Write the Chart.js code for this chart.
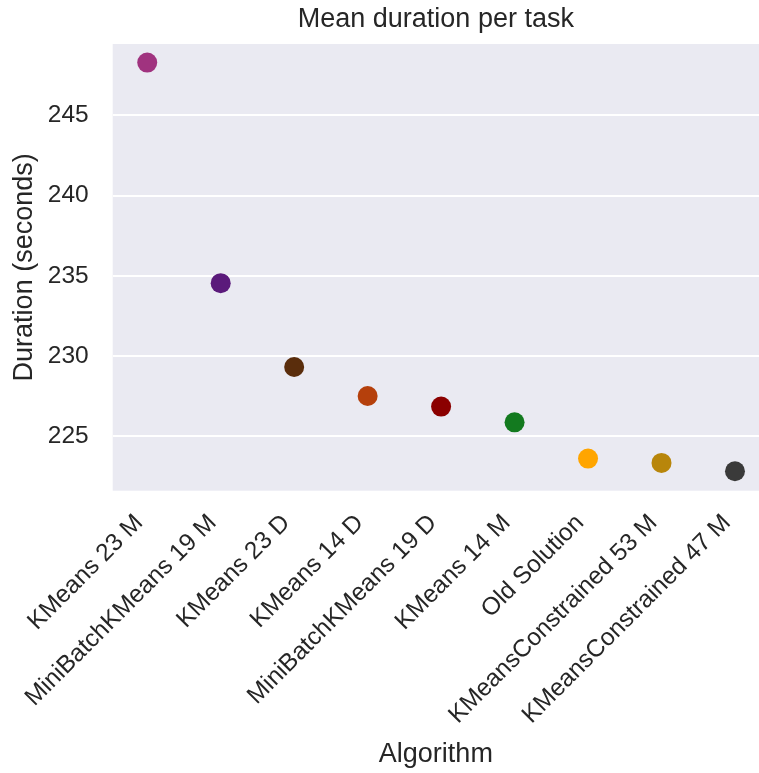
<!DOCTYPE html>
<html lang="en">
<head>
  <meta charset="UTF-8" />
  <title>Mean duration per task</title>
  <script src="https://cdn.jsdelivr.net/npm/chart.js"></script>
  <style>
    html, body {
      margin: 0;
      padding: 0;
      background: white;
    }
    #wrap {
      width: 759px;
      height: 773px;
    }
  </style>
</head>
<body>
  <div id="wrap">
    <canvas id="durationChart" width="759" height="773"></canvas>
  </div>

  <script>
    const algorithms = [
      'KMeans 23 M',
      'MiniBatchKMeans 19 M',
      'KMeans 23 D',
      'KMeans 14 D',
      'MiniBatchKMeans 19 D',
      'KMeans 14 M',
      'Old Solution',
      'KMeansConstrained 53 M',
      'KMeansConstrained 47 M'
    ];
    const meanDurations = [248.29, 234.55, 229.33, 227.52, 226.86, 225.88, 223.62, 223.35, 222.83];
    const pointColors = ['#a0337f', '#5b1a7b', '#5a2d0c', '#b5400c', '#8b0000', '#137a1f', '#ffa500', '#b8860b', '#3a3a3a'];
    const yTicks = [225, 230, 235, 240, 245];

    const FONT = "'Liberation Sans', Arial, sans-serif";
    const TEXT = '#262626';

    // grey panel behind the plot, seaborn darkgrid look
    const panelBg = {
      id: 'panelBg',
      beforeDraw(chart) {
        const { ctx, chartArea: a } = chart;
        ctx.save();
        ctx.fillStyle = '#eaeaf2';
        ctx.fillRect(a.left, a.top, a.right - a.left, a.bottom - a.top);
        ctx.restore();
      }
    };

    new Chart(document.getElementById('durationChart').getContext('2d'), {
      type: 'scatter',
      data: {
        datasets: [{
          label: 'Mean duration',
          data: meanDurations.map((v, i) => ({ x: i, y: v })),
          backgroundColor: pointColors,
          borderColor: pointColors,
          borderWidth: 0,
          pointRadius: 10,
          pointHoverRadius: 10
        }]
      },
      options: {
        responsive: false,
        animation: false,
        layout: { padding: 0, autoPadding: false },
        plugins: {
          legend: { display: false },
          tooltip: { enabled: false },
          title: {
            display: true,
            fullSize: false,
            text: 'Mean duration per task',
            color: TEXT,
            font: { family: FONT, size: 27, weight: 'normal' },
            padding: { top: 3.3, bottom: 8.3 }
          }
        },
        scales: {
          x: {
            type: 'linear',
            min: -0.47,
            max: 8.327,
            afterBuildTicks: s => { s.ticks = algorithms.map((_, i) => ({ value: i })); },
            afterFit: s => {
              s.height = 282.3;
              // let the panel run to the right edge of the canvas
              s.paddingRight = 0;
              s.paddingLeft = 0;
            },
            grid: { display: false, drawTicks: false },
            border: { display: false },
            ticks: {
              autoSkip: false,
              minRotation: 45,
              maxRotation: 45,
              padding: 18,
              labelOffset: -8,
              color: TEXT,
              font: { family: FONT, size: 24.5 },
              callback: v => algorithms[v]
            },
            title: {
              display: true,
              text: 'Algorithm',
              color: TEXT,
              font: { family: FONT, size: 27 },
              padding: { top: 0, bottom: 2 }
            }
          },
          y: {
            min: 221.62,
            max: 249.45,
            afterBuildTicks: s => { s.ticks = yTicks.map(v => ({ value: v })); },
            afterFit: s => { s.width = 112.7; },
            grid: { color: '#ffffff', lineWidth: 2, drawTicks: false },
            border: { display: false },
            ticks: {
              padding: 24,
              color: TEXT,
              font: { family: FONT, size: 24.5 }
            },
            title: {
              display: true,
              text: 'Duration (seconds)',
              color: TEXT,
              font: { family: FONT, size: 27 },
              padding: { top: 8, bottom: 0 }
            }
          }
        }
      },
      plugins: [panelBg]
    });
  </script>
</body>
</html>
